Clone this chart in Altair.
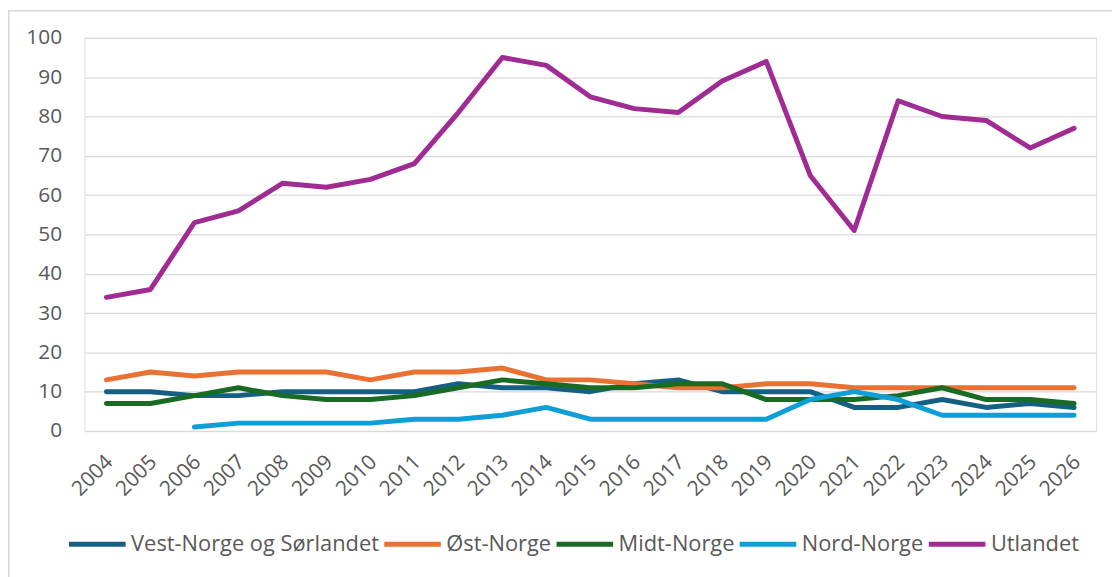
import altair as alt
import pandas as pd

years = [str(y) for y in range(2004, 2027)]
series_names = ["Vest-Norge og Sørlandet", "Øst-Norge", "Midt-Norge", "Nord-Norge", "Utlandet"]
colors = ["#156082", "#E97132", "#196B24", "#0F9ED5", "#A02B93"]

vest = [10, 10, 9, 9, 10, 10, 10, 10, 12, 11, 11, 10, 12, 13, 10, 10, 10, 6, 6, 8, 6, 7, 6]
ost = [13, 15, 14, 15, 15, 15, 13, 15, 15, 16, 13, 13, 12, 11, 11, 12, 12, 11, 11, 11, 11, 11, 11]
midt = [7, 7, 9, 11, 9, 8, 8, 9, 11, 13, 12, 11, 11, 12, 12, 8, 8, 8, 9, 11, 8, 8, 7]
nord = [None, None, 1, 2, 2, 2, 2, 3, 3, 4, 6, 3, 3, 3, 3, 3, 8, 10, 8, 4, 4, 4, 4]
utland = [34, 36, 53, 56, 63, 62, 64, 68, 81, 95, 93, 85, 82, 81, 89, 94, 65, 51, 84, 80, 79, 72, 77]

rows = []
for name, vals in zip(series_names, [vest, ost, midt, nord, utland]):
    for i, (yr, v) in enumerate(zip(years, vals)):
        if v is not None:
            rows.append({"year": yr, "value": v, "series": name, "order": series_names.index(name)})
df = pd.DataFrame(rows)

FONT = "Open Sans"
TXT = "#595959"
W, H = 1019, 396

lines = alt.Chart(df).mark_line(strokeWidth=5, strokeCap="round", strokeJoin="round").encode(
    x=alt.X("year:O", scale=alt.Scale(type="point", padding=0.5), title=None,
            axis=alt.Axis(labelAngle=-45, labelAlign="right", labelBaseline="top",
                          labelPadding=20, labelOffset=-5, domain=False, ticks=False, grid=False,
                          labelFontSize=21, labelColor=TXT, labelFont=FONT)),
    y=alt.Y("value:Q", scale=alt.Scale(domain=[0, 100]), title=None,
            axis=alt.Axis(values=list(range(0, 101, 10)), domain=False, ticks=False,
                          labelPadding=23, labelFontSize=21, labelColor=TXT, labelFont=FONT,
                          gridColor="#D9D9D9", gridWidth=1.3)),
    color=alt.Color("series:N", scale=alt.Scale(domain=series_names, range=colors), title=None,
                    legend=alt.Legend(orient="none", legendX=-18, legendY=479, direction="horizontal",
                                      columns=5, symbolType="stroke", symbolSize=3249,
                                      symbolStrokeWidth=5, labelFontSize=22, labelFont=FONT,
                                      labelColor=TXT, labelOffset=3, columnPadding=-5.5,
                                      labelLimit=400)),
    order=alt.Order("order:Q"),
    detail="series:N",
)

border = alt.Chart(pd.DataFrame({"a": [0]})).mark_rect(
    fill=None, stroke="#D9D9D9", strokeWidth=1.5
).encode(
    x=alt.value(-76.25), x2=alt.value(1040), y=alt.value(-27.25), y2=alt.value(560)
)

chart = alt.layer(border, lines).properties(
    width=W, height=H,
    autosize=alt.AutoSizeParams(type="none"),
    padding={"left": 77, "top": 28, "right": 16, "bottom": 145},
).configure_view(stroke=None).configure(background="white")

chart.save("out.html", embed_options={"renderer": "svg", "actions": False})
